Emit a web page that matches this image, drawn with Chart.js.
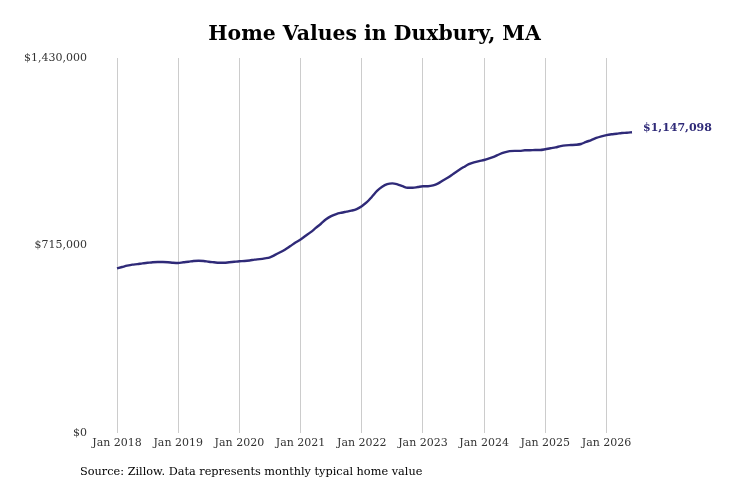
<!DOCTYPE html>
<html>
<head>
<meta charset="utf-8">
<script src="https://cdn.jsdelivr.net/npm/chart.js@4/dist/chart.umd.min.js"></script>
<style>
  html, body { margin: 0; padding: 0; background: #ffffff; }
  #wrap { width: 731px; height: 487px; position: relative; }
</style>
</head>
<body>
<div id="wrap"><canvas id="c" width="731" height="487"></canvas></div>
<script>
const chartTitle = "Home Values in Duxbury, MA";
const sourceNote = "Source: Zillow. Data represents monthly typical home value";
const monthNames = ["Jan","Feb","Mar","Apr","May","Jun","Jul","Aug","Sep","Oct","Nov","Dec"];
const startYear = 2018;
const yTicks = [0, 715000, 1430000];
const homeValues = [
  628000, 633000, 638000, 642000, 644000, 647000, 649000, 651000, 652000, 652000, 651000, 649000,
  648000, 651000, 653000, 656000, 657000, 656000, 653000, 651000, 649000, 649000, 651000, 653000,
  655000, 656000, 658000, 661000, 663000, 666000, 670000, 679000, 689000, 700000, 713000, 726000,
  738000, 752000, 766000, 782000, 798000, 815000, 827000, 835000, 840000, 844000, 848000, 854000,
  865000, 880000, 901000, 923000, 939000, 949000, 952000, 948000, 941000, 935000, 935000, 938000,
  941000, 941000, 944000, 952000, 964000, 975000, 989000, 1002000, 1014000, 1025000, 1032000, 1037000,
  1041000, 1047000, 1054000, 1063000, 1070000, 1075000, 1076000, 1076000, 1078000, 1078000, 1079000, 1079000,
  1082000, 1086000, 1089000, 1094000, 1097000, 1098000, 1099000, 1102000, 1110000, 1117000, 1125000, 1131000,
  1136000, 1139000, 1141000, 1144000, 1145000, 1147098
];
const monthLabels = homeValues.map((v, i) => monthNames[i % 12] + " " + (startYear + Math.floor(i / 12)));

const lineColor = "#2f2a78";
const serif = "'DejaVu Serif', serif";
const fmt = v => "$" + Math.round(v).toLocaleString("en-US");

const decor = {
  id: "decor",
  afterDraw(chart) {
    const ctx = chart.ctx;
    const a = chart.chartArea;
    ctx.save();
    ctx.fillStyle = "#000";
    ctx.font = "bold 20.4px " + serif;
    ctx.textAlign = "center";
    ctx.textBaseline = "middle";
    ctx.fillText(chartTitle, (a.left + a.right) / 2, 35);
    ctx.font = "11.3px " + serif;
    ctx.textAlign = "left";
    ctx.fillText(sourceNote, 80, 472);
    const last = homeValues.length - 1;
    const y = chart.scales.y.getPixelForValue(homeValues[last]);
    ctx.fillStyle = lineColor;
    ctx.font = "bold 11px " + serif;
    ctx.fillText(fmt(homeValues[last]), a.right + 11, y - 4);
    ctx.restore();
  }
};

new Chart(document.getElementById("c"), {
  type: "line",
  data: {
    labels: monthLabels,
    datasets: [{
      data: homeValues,
      borderColor: lineColor,
      borderWidth: 2.4,
      pointRadius: 0,
      fill: false,
      cubicInterpolationMode: "monotone"
    }]
  },
  options: {
    responsive: false,
    animation: false,
    devicePixelRatio: 1,
    layout: { padding: { top: 58, right: 99, bottom: 34, left: 0 } },
    plugins: { legend: { display: false }, title: { display: false }, tooltip: { enabled: false } },
    scales: {
      x: {
        type: "category",
        offset: false,
        afterFit(s) { s.height = 20; },
        grid: { color: "#cccccc", lineWidth: 1, drawTicks: false },
        border: { display: false },
        ticks: {
          autoSkip: false,
          maxRotation: 0,
          padding: 4,
          color: "#333333",
          font: { family: serif, size: 11 },
          callback(val, idx) { return idx % 12 === 0 ? monthLabels[idx] : null; }
        }
      },
      y: {
        min: 0,
        max: 1430000,
        afterFit(s) { s.width = 117; },
        afterBuildTicks(s) { s.ticks = yTicks.map(v => ({ value: v })); },
        grid: { display: false, drawTicks: false },
        border: { display: false },
        ticks: {
          padding: 30,
          color: "#333333",
          font: { family: serif, size: 11 },
          callback: v => fmt(v)
        }
      }
    }
  },
  plugins: [decor]
});
</script>
</body>
</html>
